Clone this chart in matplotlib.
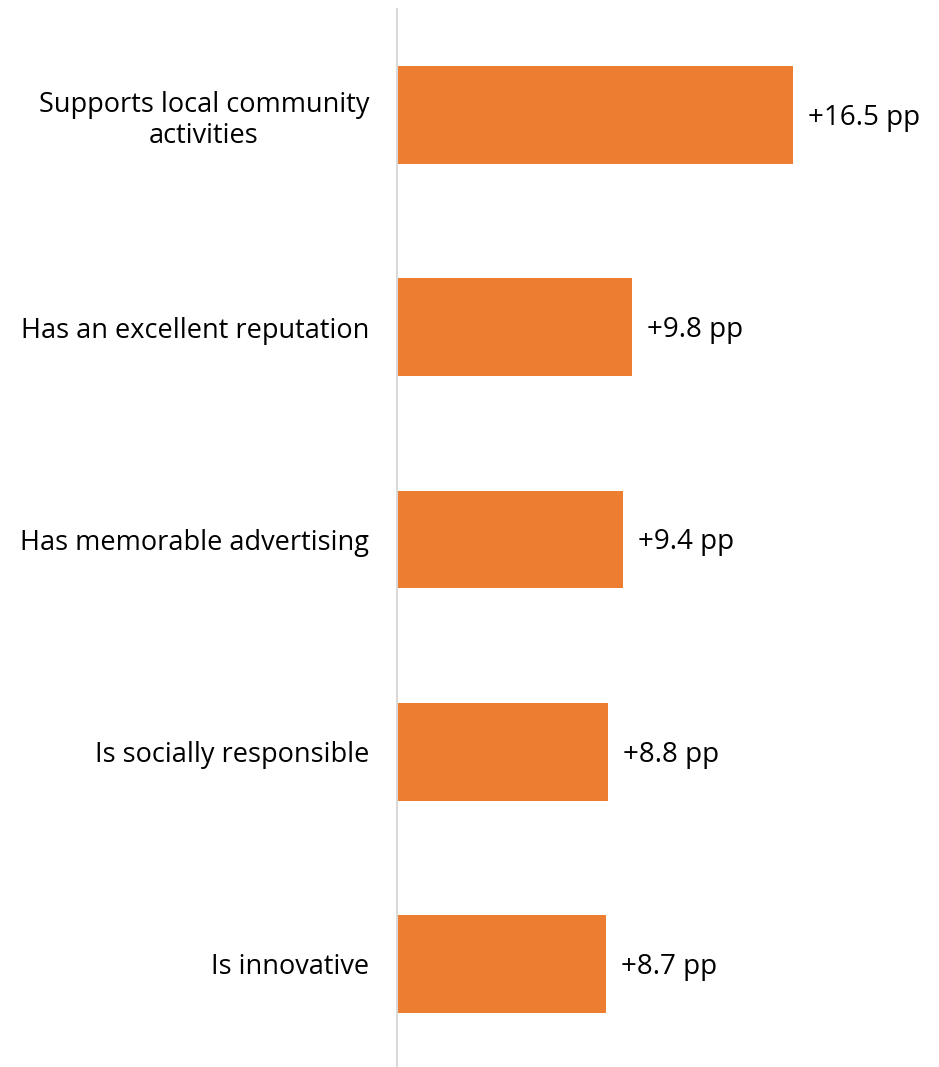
import matplotlib
matplotlib.use("Agg")
import matplotlib.pyplot as plt

# data
categories = ["Supports local community\nactivities",
              "Has an excellent reputation",
              "Has memorable advertising",
              "Is socially responsible",
              "Is innovative"]
values = [16.5, 9.8, 9.4, 8.8, 8.7]
value_labels = ["+16.5 pp", "+9.8 pp", "+9.4 pp", "+8.8 pp", "+8.7 pp"]

BAR_COLOR = "#ED7D31"
AXIS_COLOR = "#D9D9D9"

plt.rcParams["font.family"] = ["Open Sans", "DejaVu Sans"]

fig = plt.figure(figsize=(9.39, 10.67), dpi=100)
# axes left edge sits where the vertical line is
ax = fig.add_axes([397 / 939, -3 / 1067, 1 - 397 / 939, (1067 - 9 + 3) / 1067])

y_pos = list(range(len(categories)))
ax.barh(y_pos, values, height=0.46, color=BAR_COLOR, zorder=2)

ax.set_ylim(len(categories) - 0.5, -0.5)
ax.set_xlim(0, (939 - 397) / 24)

for y, v, lab in zip(y_pos, values, value_labels):
    ax.annotate(lab, (v, y), xytext=(15, -3), textcoords="offset pixels",
                va="center", ha="left", fontsize=20, color="black")

ax.set_yticks(y_pos)
ax.set_yticklabels(categories, fontsize=19.5, ha="right",
                   multialignment="center", linespacing=1.15)
ax.tick_params(axis="y", length=0, pad=20)
ax.set_xticks([])

for s in ["top", "right", "bottom"]:
    ax.spines[s].set_visible(False)
ax.spines["left"].set_color(AXIS_COLOR)
ax.spines["left"].set_linewidth(1.5)

fig.savefig("out.png", dpi=100)
